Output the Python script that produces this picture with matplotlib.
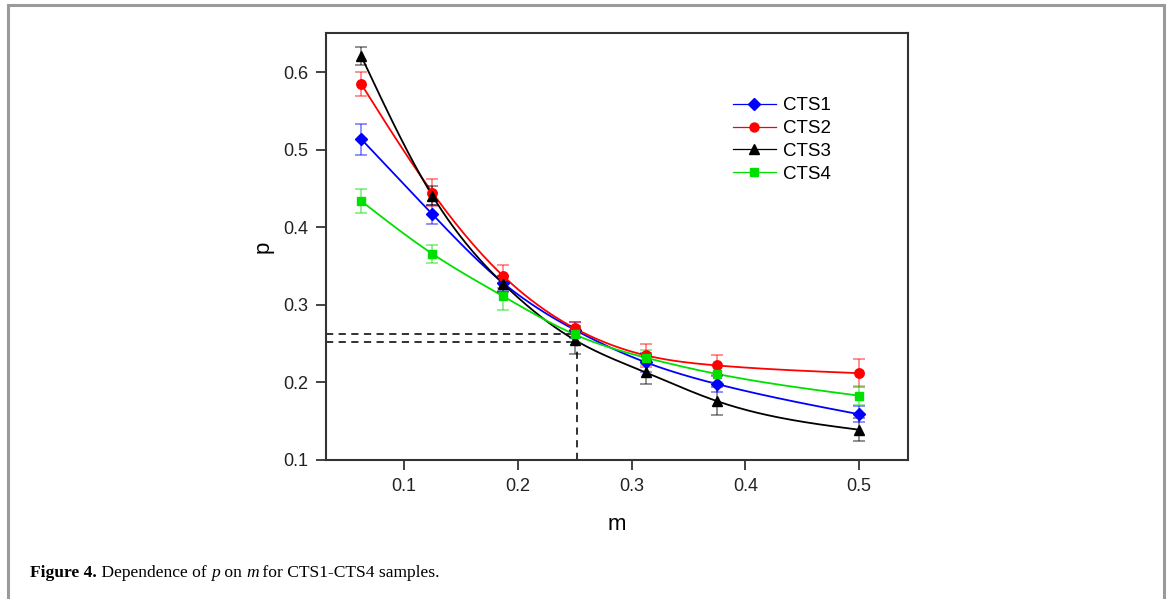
import numpy as np
import matplotlib
matplotlib.use("Agg")
import matplotlib.pyplot as plt
from matplotlib.patches import Rectangle

m = [0.0625, 0.125, 0.1875, 0.25, 0.3125, 0.375, 0.5]

cts1 = [0.514, 0.417, 0.328, 0.268, 0.226, 0.198, 0.159]
cts2 = [0.585, 0.445, 0.337, 0.270, 0.235, 0.222, 0.212]
cts3 = [0.621, 0.441, 0.327, 0.255, 0.213, 0.176, 0.139]
cts4 = [0.434, 0.366, 0.311, 0.262, 0.232, 0.211, 0.183]

err1 = [0.020, 0.012, 0.010, 0.010, 0.012, 0.010, 0.010]
err2 = [0.015, 0.017, 0.015, 0.008, 0.015, 0.013, 0.018]
err3 = [0.012, 0.012, 0.010, 0.018, 0.015, 0.018, 0.015]
err4 = [0.015, 0.012, 0.017, 0.010, 0.010, 0.010, 0.012]

labels = ["CTS1", "CTS2", "CTS3", "CTS4"]
p_cross = [0.2627, 0.2527]   # dashed guide levels
m_cross = 0.25

plt.rcParams['font.family'] = ['Liberation Sans', 'DejaVu Sans']


def smooth(x, y, n=300):
    # natural cubic spline through the points, just for drawing the line
    x = np.asarray(x, float)
    y = np.asarray(y, float)
    k = len(x)
    h = np.diff(x)
    A = np.zeros((k, k))
    r = np.zeros(k)
    A[0, 0] = A[-1, -1] = 1
    for i in range(1, k - 1):
        A[i, i - 1] = h[i - 1]
        A[i, i] = 2 * (h[i - 1] + h[i])
        A[i, i + 1] = h[i]
        r[i] = 6 * ((y[i + 1] - y[i]) / h[i] - (y[i] - y[i - 1]) / h[i - 1])
    M = np.linalg.solve(A, r)
    xs = np.linspace(x[0], x[-1], n)
    idx = np.clip(np.searchsorted(x, xs) - 1, 0, k - 2)
    x0, x1 = x[idx], x[idx + 1]
    hh = x1 - x0
    ys = (M[idx] * (x1 - xs) ** 3 / (6 * hh) + M[idx + 1] * (xs - x0) ** 3 / (6 * hh)
          + (y[idx] / hh - M[idx] * hh / 6) * (x1 - xs)
          + (y[idx + 1] / hh - M[idx + 1] * hh / 6) * (xs - x0))
    return xs, ys


fig = plt.figure(figsize=(11.68, 5.99), dpi=100)
ax = fig.add_axes([0.2791, 0.2321, 0.4983, 0.7129])

series = [
    (cts1, err1, "#0000ff", "D", 6),
    (cts2, err2, "#ff0000", "o", 6.8),
    (cts3, err3, "#000000", "^", 7.2),
    (cts4, err4, "#00e000", "s", 5.6),
]

handles = []
for (vals, err, col, mk, ms), lab in zip(series, labels):
    xs, ys = smooth(m, vals)
    ax.plot(xs, ys, color=col, lw=1.3, zorder=3)
    ax.errorbar(m, vals, yerr=err, fmt="none", ecolor=col, elinewidth=1.1,
                capsize=4, capthick=1.1, alpha=0.55, zorder=4)
    ax.plot(m, vals, ls="none", marker=mk, ms=ms, color=col, zorder=5)
    h, = ax.plot([], [], color=col, lw=0.9, marker=mk, ms=ms * 0.95, label=lab)
    handles.append(h)

# dashed guide lines
x_lo, x_hi = 0.0315, 0.543
for pc in p_cross:
    ax.plot([x_lo, m_cross], [pc, pc], color="#222222", ls=(0, (4, 3)), lw=1.3, zorder=2)
ax.plot([m_cross + 0.002, m_cross + 0.002], [0.1, p_cross[1]], color="#222222",
        ls=(0, (4, 3)), lw=1.3, zorder=2)

ax.set_xlim(x_lo, x_hi)
ax.set_ylim(0.1, 0.651)
ax.set_xticks([0.1, 0.2, 0.3, 0.4, 0.5])
ax.set_yticks([0.1, 0.2, 0.3, 0.4, 0.5, 0.6])
ax.tick_params(direction="out", length=7, width=1.2, labelsize=13, colors="#222222", pad=6)
for s in ax.spines.values():
    s.set_linewidth(1.5)
    s.set_color("#333333")

ax.set_xlabel("m", fontsize=16, labelpad=14)
ax.set_ylabel("p", fontsize=16, labelpad=7)

leg = ax.legend(handles=handles, loc="upper left", bbox_to_anchor=(0.67, 0.889),
                frameon=False, fontsize=13.5, handlelength=2.3, labelspacing=0.3,
                handletextpad=0.37)

# figure border (page frame)
fig.patches.append(Rectangle((8 / 1168, -0.01), (1164 - 8) / 1168, (599 - 5) / 599 + 0.01,
                             transform=fig.transFigure, fill=False,
                             edgecolor="#9a9a9a", lw=2.2))

# caption with mixed styles
fig.canvas.draw()
renderer = fig.canvas.get_renderer()
parts = [("Figure 4.", "bold", "normal"), (" Dependence of ", "normal", "normal"),
         ("p", "normal", "italic"), (" on ", "normal", "normal"),
         ("m", "normal", "italic"), (" for CTS1-CTS4 samples.", "normal", "normal")]
x_px = 30
for txt, wt, st in parts:
    t = fig.text(x_px / 1168, 1 - 577 / 599, txt, fontsize=12.6, weight=wt, style=st,
                 family=["Liberation Serif", "DejaVu Serif"], va="baseline", ha="left")
    bb = t.get_window_extent(renderer)
    x_px = bb.x1

fig.savefig("out.png", dpi=100)
